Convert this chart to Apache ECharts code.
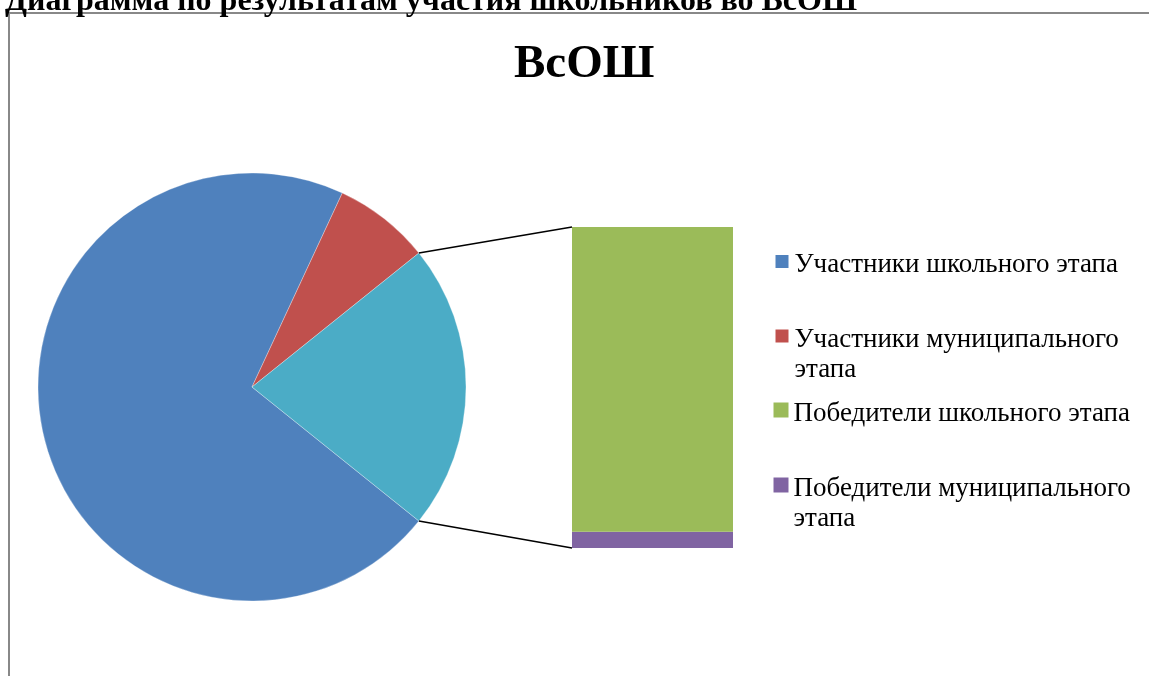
<!DOCTYPE html>
<html>
<head>
<meta charset="utf-8">
<script src="https://cdn.jsdelivr.net/npm/echarts@6/dist/echarts.min.js"></script>
<style>
html,body{margin:0;padding:0;background:#fff;}
#chart{width:1149px;height:676px;}
</style>
</head>
<body>
<div id="chart"></div>
<script>
// ---- data ----
var pieNames = ['Участники школьного этапа', 'Участники муниципального этапа'];
var pieValues = [390, 40];
var barNames = ['Победители школьного этапа', 'Победители муниципального этапа'];
var barValues = [112, 6];
var otherName = 'Другое';
var legendNames = ['Участники школьного этапа', 'Участники муниципального этапа', 'Победители школьного этапа', 'Победители муниципального этапа'];
var headerText = 'Диаграмма по результатам участия школьников во ВсОШ';
var titleText = 'ВсОШ';

// ---- styles / layout ----
var colors = {
  'Участники школьного этапа': '#4F81BD',
  'Участники муниципального этапа': '#C0504D',
  'Другое': '#4BACC6',
  'Победители школьного этапа': '#9BBB59',
  'Победители муниципального этапа': '#8064A2'
};
var FONT = '"Liberation Serif", "Times New Roman", serif';
var LEGEND_FONT_SIZE = 27;
var LEGEND_LH = 30;
var LEGEND_WRAP = 350;
var TEXT_SHIFT = 3.5; // text line centre below icon centre
var PIE_CX = 252, PIE_CY = 387, PIE_R = 214;
var BAR_LEFT = 572, BAR_TOP = 227, BAR_W = 161, BAR_H = 321;

var otherTotal = barValues.reduce(function (a, b) { return a + b; }, 0);
var grandTotal = pieValues.reduce(function (a, b) { return a + b; }, 0) + otherTotal;
var otherDeg = otherTotal / grandTotal * 360;
var startAngle = -otherDeg / 2;

var pieData = pieNames.map(function (n, i) {
  return { name: n, value: pieValues[i], itemStyle: { color: colors[n] } };
});
pieData.push({ name: otherName, value: otherTotal, itemStyle: { color: colors[otherName] } });

// word wrap by measured width
var mctx = document.createElement('canvas').getContext('2d');
mctx.font = LEGEND_FONT_SIZE + 'px ' + FONT;
function wrapLines(text) {
  var words = text.split(' '), lines = [], cur = '';
  words.forEach(function (w) {
    var t = cur ? cur + ' ' + w : w;
    if (cur && mctx.measureText(t).width > LEGEND_WRAP) { lines.push(cur); cur = w; }
    else cur = t;
  });
  if (cur) lines.push(cur);
  return lines;
}

var chart = echarts.init(document.getElementById('chart'), null, { renderer: 'canvas' });

var legendIconCenters = [261.5, 336, 410, 485];
var legends = legendNames.map(function (n, i) {
  var lines = wrapLines(n);
  var nL = lines.length;
  var g = 2 * TEXT_SHIFT + (nL - 1) * LEGEND_LH;
  var blockH = g + nL * LEGEND_LH;
  return {
    data: [{ name: n, icon: 'rect', itemStyle: { color: colors[n] } }],
    orient: 'vertical',
    left: 773.5,
    top: legendIconCenters[i] - blockH / 2,
    padding: 0,
    itemWidth: 15,
    itemHeight: 15,
    selectedMode: false,
    formatter: function (name) {
      return '{g| }\n' + wrapLines(name).map(function (l) { return '{t|' + l + '}'; }).join('\n');
    },
    textStyle: {
      fontFamily: FONT,
      fontSize: LEGEND_FONT_SIZE,
      lineHeight: LEGEND_LH,
      color: '#000',
      rich: {
        g: { fontSize: 1, lineHeight: g, height: g },
        t: { fontFamily: FONT, fontSize: LEGEND_FONT_SIZE, lineHeight: LEGEND_LH, color: '#000' }
      }
    }
  };
});

var option = {
  animation: false,
  backgroundColor: '#fff',
  title: {
    text: titleText,
    left: 514,
    top: 41,
    padding: 0,
    textStyle: { fontFamily: FONT, fontSize: 47, fontWeight: 'bold', color: '#000' }
  },
  legend: legends,
  grid: { left: BAR_LEFT, top: BAR_TOP, width: BAR_W, height: BAR_H, containLabel: false },
  xAxis: { type: 'category', data: [''], show: false, boundaryGap: true },
  yAxis: { type: 'value', min: 0, max: otherTotal, show: false },
  series: [
    {
      type: 'pie',
      center: [PIE_CX, PIE_CY],
      radius: PIE_R,
      startAngle: startAngle,
      clockwise: true,
      label: { show: false },
      labelLine: { show: false },
      emphasis: { disabled: true },
      itemStyle: { borderColor: '#ffffff', borderWidth: 0.3 },
      data: pieData
    },
    {
      name: barNames[1],
      type: 'bar',
      stack: 'other',
      barWidth: '100%',
      itemStyle: { color: colors[barNames[1]] },
      emphasis: { disabled: true },
      data: [barValues[1]]
    },
    {
      name: barNames[0],
      type: 'bar',
      stack: 'other',
      barWidth: '100%',
      itemStyle: { color: colors[barNames[0]] },
      emphasis: { disabled: true },
      data: [barValues[0]]
    }
  ]
};
chart.setOption(option);

// connector lines derived from the "other" slice and the stacked bar
var half = otherDeg / 2 * Math.PI / 180;
var p1 = [PIE_CX + PIE_R * Math.cos(half), PIE_CY - PIE_R * Math.sin(half)];
var p2 = [PIE_CX + PIE_R * Math.cos(half), PIE_CY + PIE_R * Math.sin(half)];
var yTop = chart.convertToPixel({ yAxisIndex: 0 }, otherTotal);
var yBot = chart.convertToPixel({ yAxisIndex: 0 }, 0);
var xBand = chart.convertToPixel({ xAxisIndex: 0 }, 0);
var xLeft = xBand - BAR_W / 2;

chart.setOption({
  graphic: [
    {
      type: 'rect', silent: true, z: 0,
      shape: { x: 9, y: 13, width: 1300, height: 900 },
      style: { fill: null, stroke: '#888888', lineWidth: 2 }
    },
    {
      type: 'text', silent: true, z: 10,
      x: 5, y: 18,
      style: { text: headerText, font: 'bold 32px ' + FONT, fill: '#000', verticalAlign: 'bottom', align: 'left' }
    },
    {
      type: 'line', silent: true, z: 5,
      shape: { x1: p1[0], y1: p1[1], x2: xLeft, y2: yTop },
      style: { stroke: '#000', lineWidth: 1.5 }
    },
    {
      type: 'line', silent: true, z: 5,
      shape: { x1: p2[0], y1: p2[1], x2: xLeft, y2: yBot },
      style: { stroke: '#000', lineWidth: 1.5 }
    }
  ]
});
</script>
</body>
</html>
